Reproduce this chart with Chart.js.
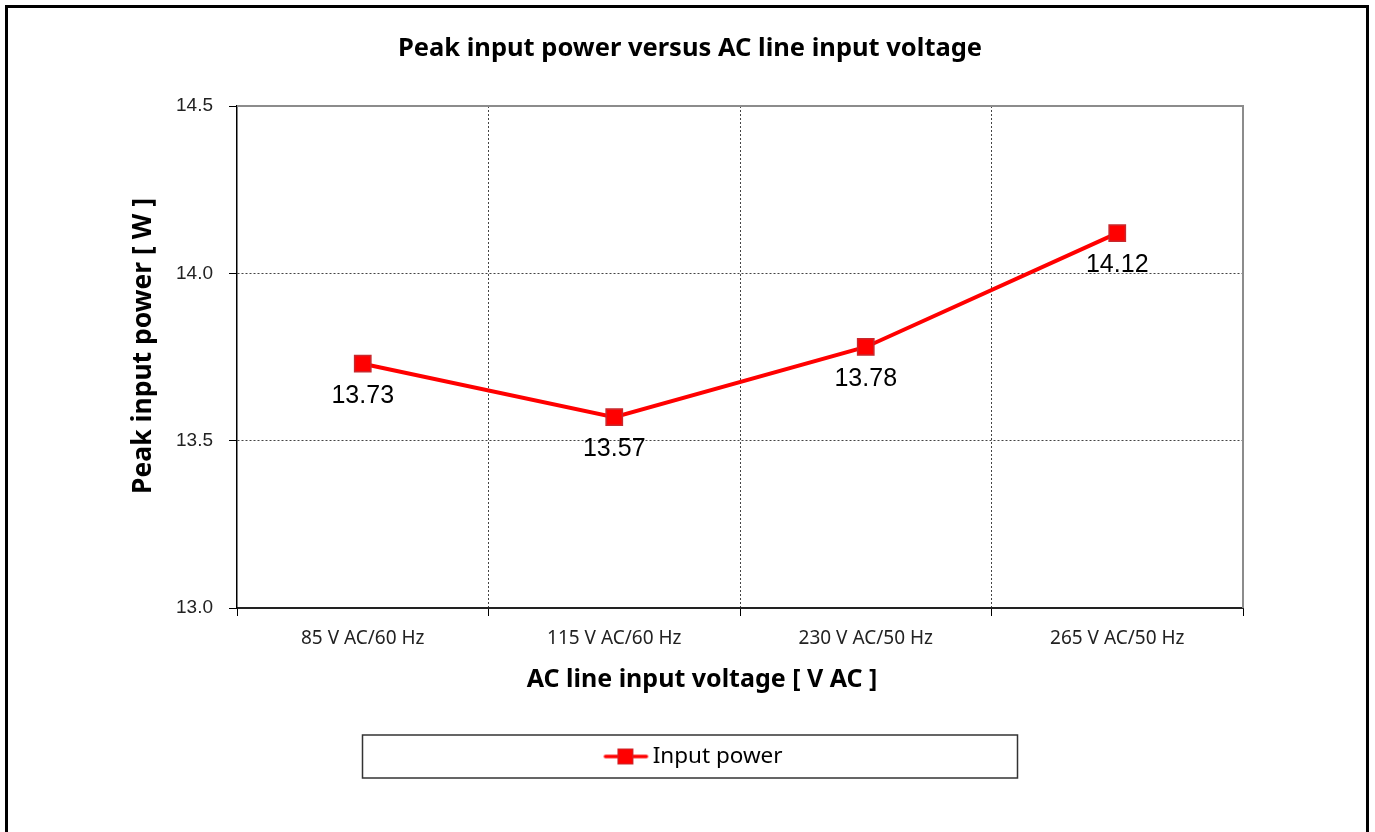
<!DOCTYPE html>
<html>
<head>
<meta charset="utf-8">
<script src="https://cdn.jsdelivr.net/npm/chart.js@4.4.0/dist/chart.umd.min.js"></script>
<style>
  html, body { margin: 0; padding: 0; background: #fff; }
  #frame { position: absolute; left: 5px; top: 5px; width: 1358px; height: 900px; border: 3px solid #000; }
  #wrap { position: absolute; left: 0; top: 0; width: 1375px; height: 832px; }
</style>
</head>
<body>
<div id="frame"></div>
<div id="wrap"><canvas id="myChart" width="1375" height="832"></canvas></div>
<script>
// datos del grafico
var categories = ['85 V AC/60 Hz', '115 V AC/60 Hz', '230 V AC/50 Hz', '265 V AC/50 Hz'];
var inputPower = [13.73, 13.57, 13.78, 14.12];
var yTicks = [13.0, 13.5, 14.0, 14.5];
var chartTitle = 'Peak input power versus AC line input voltage';
var xTitle = 'AC line input voltage [ V AC ]';
var yTitle = 'Peak input power [ W ]';
var seriesName = 'Input power';

// simbolo de la leyenda: linea con cuadrado
function legendSymbol() {
    var c = document.createElement('canvas');
    c.width = 60;
    c.height = 18;
    var g = c.getContext('2d');
    g.strokeStyle = '#ff0000';
    g.lineWidth = 3.5;
    g.lineCap = 'round';
    g.beginPath();
    g.moveTo(16, 9);
    g.lineTo(57, 9);
    g.stroke();
    g.fillStyle = '#ff0000';
    g.fillRect(28, 1, 16, 16);
    g.strokeStyle = '#c8282d';
    g.lineWidth = 1;
    g.strokeRect(28.5, 1.5, 15, 15);
    return c;
}

var extras = {
    id: 'extras',
    beforeDatasetsDraw: function (chart) {
        var ctx = chart.ctx;
        var a = chart.chartArea;
        ctx.save();
        ctx.strokeStyle = '#8c8c8c';
        ctx.lineWidth = 2;
        ctx.beginPath();
        ctx.moveTo(a.left, a.top);
        ctx.lineTo(a.right, a.top);
        ctx.lineTo(a.right, a.bottom);
        ctx.stroke();
        ctx.restore();
    },
    afterDatasetsDraw: function (chart) {
        var ctx = chart.ctx;
        var meta = chart.getDatasetMeta(0);
        ctx.save();
        ctx.font = '25px "Liberation Sans", Arial, sans-serif';
        ctx.fillStyle = '#000';
        ctx.textAlign = 'center';
        ctx.textBaseline = 'middle';
        meta.data.forEach(function (pt, i) {
            ctx.fillText(inputPower[i].toFixed(2), pt.x, pt.y + 32);
        });
        ctx.restore();
    },
    afterDraw: function (chart) {
        var ctx = chart.ctx;
        var a = chart.chartArea;
        ctx.save();
        ctx.fillStyle = '#000';
        ctx.textAlign = 'center';
        ctx.textBaseline = 'middle';
        // titulos de ejes
        ctx.font = 'bold 25px "Noto Sans", sans-serif';
        ctx.fillText(xTitle, (a.left + a.right) / 2 - 38, a.bottom + 72);
        ctx.save();
        ctx.font = 'bold 26.5px "Noto Sans", sans-serif';
        ctx.translate(a.left - 94, (a.top + a.bottom) / 2 - 11);
        ctx.rotate(-Math.PI / 2);
        ctx.fillText(yTitle, 0, 0);
        ctx.restore();

        // marco de la leyenda
        var lg = chart.legend;
        var cx = (lg.left + lg.right) / 2;
        ctx.strokeStyle = '#333';
        ctx.lineWidth = 1.5;
        ctx.strokeRect(cx - 327.5, lg.top - 0.25, 655, 43);
        ctx.restore();
    }
};

var ctx = document.getElementById('myChart').getContext('2d');
var chart = new Chart(ctx, {
    type: 'line',
    data: {
        labels: categories,
        datasets: [{
            label: seriesName,
            data: inputPower,
            borderColor: '#ff0000',
            backgroundColor: '#ff0000',
            borderWidth: 4,
            pointStyle: 'rect',
            pointRadius: 11.5,
            pointHoverRadius: 11.5,
            pointBackgroundColor: '#ff0000',
            pointBorderColor: '#c8282d',
            pointBorderWidth: 1.5,
            tension: 0
        }]
    },
    options: {
        responsive: false,
        animation: false,
        events: [],
        layout: { padding: { left: 137, right: 132, top: 0, bottom: 54.25 } },
        plugins: {
            title: {
                display: true,
                text: chartTitle,
                color: '#000',
                font: { family: '"Noto Sans", sans-serif', size: 25.5, weight: 'bold', lineHeight: 1.2 },
                padding: { top: 33, bottom: 42.4 }
            },
            legend: {
                position: 'bottom',
                labels: {
                    usePointStyle: true,
                    pointStyle: legendSymbol(),
                    pointStyleWidth: 44,
                    color: '#000',
                    font: { family: '"Noto Sans", sans-serif', size: 22.5 }
                }
            },
            tooltip: { enabled: false }
        },
        scales: {
            x: {
                offset: true,
                afterFit: function (scale) { scale.height = 127.25; },
                grid: {
                    offset: true,
                    color: function (c) { return c.type === 'tick' && c.index > 0 ? '#444' : 'rgba(0,0,0,0)'; },
                    tickColor: '#000',
                    tickLength: 8,
                    lineWidth: 1
                },
                border: { color: '#222', width: 2, dash: [2, 2] },
                ticks: {
                    color: '#222',
                    padding: 11,
                    maxRotation: 0,
                    font: { family: '"Noto Sans", sans-serif', size: 19 }
                }
            },
            y: {
                min: 13,
                max: 14.5,
                afterFit: function (scale) { scale.width = 100; },
                afterBuildTicks: function (scale) {
                    scale.ticks = yTicks.map(function (v) { return { value: v }; });
                },
                grid: {
                    color: function (c) {
                        if (c.type !== 'tick') return 'rgba(0,0,0,0)';
                        return (c.tick.value === 13 || c.tick.value === 14.5) ? 'rgba(0,0,0,0)' : '#444';
                    },
                    tickColor: '#000',
                    tickLength: 8,
                    lineWidth: 1
                },
                border: { color: '#000', width: 1.5, dash: [2, 2] },
                ticks: {
                    color: '#222',
                    padding: 16,
                    font: { family: '"Liberation Sans", Arial, sans-serif', size: 19 },
                    callback: function (v) { return Number(v).toFixed(1); }
                }
            }
        }
    },
    plugins: [extras]
});
</script>
</body>
</html>
